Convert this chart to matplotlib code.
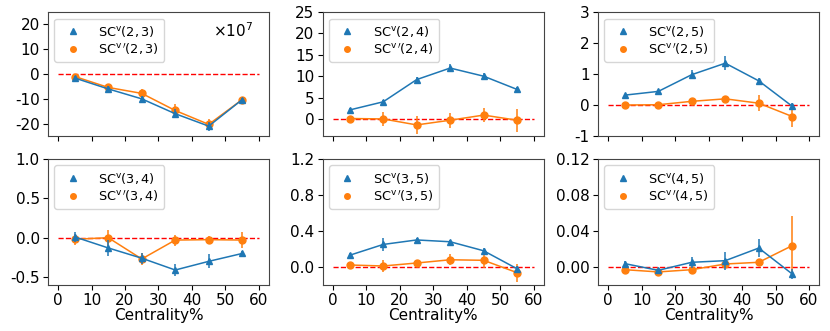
import matplotlib
matplotlib.use("Agg")
import matplotlib.pyplot as plt
from matplotlib.lines import Line2D

cent = [5, 15, 25, 35, 45, 55]

# Panel (2,3), units of 1e-7 (scaled by x10^7)
sc23 = [-1.6, -6.0, -10.0, -16.0, -21.0, -10.3]
sc23_err = [1.0, 1.2, 1.3, 1.8, 1.8, 0.6]
scp23 = [-1.0, -5.4, -7.8, -14.7, -20.3, -10.3]
scp23_err = [1.0, 1.3, 1.8, 2.5, 2.2, 0.6]

sc24 = [2.1, 4.0, 9.2, 11.9, 10.0, 6.9]
sc24_err = [0.4, 0.5, 0.7, 1.0, 0.7, 0.5]
scp24 = [0.1, 0.0, -1.4, -0.3, 0.9, -0.3]
scp24_err = [0.5, 1.7, 2.2, 1.8, 1.7, 2.7]

sc25 = [0.32, 0.44, 0.98, 1.35, 0.78, -0.04]
sc25_err = [0.05, 0.06, 0.15, 0.22, 0.1, 0.1]
scp25 = [0.0, 0.01, 0.12, 0.2, 0.06, -0.37]
scp25_err = [0.03, 0.03, 0.07, 0.1, 0.25, 0.35]

sc34 = [0.01, -0.13, -0.26, -0.41, -0.30, -0.20]
sc34_err = [0.06, 0.1, 0.07, 0.08, 0.09, 0.03]
scp34 = [-0.02, 0.0, -0.27, -0.03, -0.025, -0.03]
scp34_err = [0.07, 0.1, 0.08, 0.07, 0.05, 0.1]

sc35 = [0.13, 0.25, 0.30, 0.28, 0.18, -0.02]
sc35_err = [0.02, 0.07, 0.02, 0.02, 0.03, 0.03]
scp35 = [0.022, 0.011, 0.044, 0.08, 0.074, -0.063]
scp35_err = [0.02, 0.07, 0.03, 0.06, 0.09, 0.1]

sc45 = [0.0037, -0.0037, 0.0052, 0.007, 0.021, -0.0078]
sc45_err = [0.003, 0.002, 0.006, 0.01, 0.01, 0.005]
scp45 = [-0.003, -0.0055, -0.003, 0.0033, 0.0052, 0.0237]
scp45_err = [0.003, 0.003, 0.003, 0.003, 0.004, 0.033]

pairs = ["2, 3", "2, 4", "2, 5", "3, 4", "3, 5", "4, 5"]
blue_data = [(sc23, sc23_err), (sc24, sc24_err), (sc25, sc25_err),
             (sc34, sc34_err), (sc35, sc35_err), (sc45, sc45_err)]
orange_data = [(scp23, scp23_err), (scp24, scp24_err), (scp25, scp25_err),
               (scp34, scp34_err), (scp35, scp35_err), (scp45, scp45_err)]
ylims = [(-25, 25), (-4, 25), (-1, 3), (-0.6, 1.0), (-0.2, 1.2), (-0.02, 0.12)]
yticks = [[-20, -10, 0, 10, 20], [0, 5, 10, 15, 20, 25], [-1, 0, 1, 2, 3],
          [-0.5, 0.0, 0.5, 1.0], [0.0, 0.4, 0.8, 1.2], [0.00, 0.04, 0.08, 0.12]]
yfmt = ["%d", "%d", "%d", "%.1f", "%.1f", "%.2f"]
xticks = [0, 10, 20, 30, 40, 50, 60]

C_BLUE = "#1f77b4"
C_ORANGE = "#ff7f0e"

fig = plt.figure(figsize=(8.3, 3.31), dpi=100)
lefts = [0.0578, 0.389, 0.7205]
bottoms = [0.589, 0.139]
heights = [0.3746, 0.381]
width = 0.2663

for i in range(6):
    r, c = divmod(i, 3)
    ax = fig.add_axes([lefts[c], bottoms[r], width, heights[r]])
    ax.plot([0, 60], [0, 0], ls="--", color="red", lw=1.0, zorder=1)
    yb, eb = blue_data[i]
    yo, eo = orange_data[i]
    ax.errorbar(cent, yb, yerr=eb, fmt="-^", color=C_BLUE, ms=5, lw=1.1,
                elinewidth=1.1, capsize=0, zorder=3)
    ax.errorbar(cent, yo, yerr=eo, fmt="-o", color=C_ORANGE, ms=5, lw=1.1,
                elinewidth=1.1, capsize=0, zorder=2)
    ax.set_ylim(*ylims[i])
    ax.set_yticks(yticks[i])
    ax.set_yticklabels([yfmt[i] % v for v in yticks[i]])
    ax.set_xticks(xticks)
    ax.tick_params(labelsize=11, length=3.5, pad=2.5)
    if r == 0:
        ax.set_xticklabels([])
    else:
        ax.set_xlabel("Centrality%", fontsize=11, labelpad=0)
    for s in ax.spines.values():
        s.set_color("#444444")
    handles = [Line2D([], [], ls="none", marker="^", color=C_BLUE, ms=4),
               Line2D([], [], ls="none", marker="o", color=C_ORANGE, ms=4)]
    labels = [r"SC$^{\rm v}(%s)$" % pairs[i], r"SC$^{\rm v\,\prime}(%s)$" % pairs[i]]
    ax.legend(handles, labels, loc="upper left", fontsize=9.3, handletextpad=1.0,
              borderpad=0.4, labelspacing=0.2, handlelength=2.0, framealpha=0.8)
    if i == 0:
        ax.text(0.745, 0.80, r"$\times10^7$", transform=ax.transAxes, fontsize=11)

fig.savefig("out.png", dpi=100)
